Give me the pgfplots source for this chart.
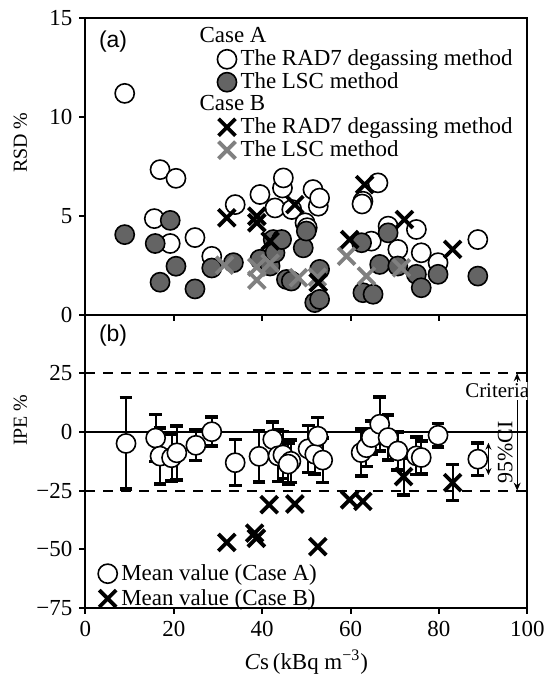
\documentclass[border=0pt]{standalone}
\usepackage{pgfplots}
\pgfplotsset{compat=1.18}
\usepackage{fontspec}
\setmainfont{Liberation Serif}
\newfontfamily\arial{Liberation Sans}
\usetikzlibrary{arrows.meta}

\definecolor{lscgray}{RGB}{100,100,100}
\definecolor{xgray}{RGB}{128,128,128}

\pgfplotsset{
  panel/.style={
    width=221.5pt, scale only axis,
    xmin=0, xmax=100,
    axis line style={line width=1pt},
    tick align=outside, major tick length=3pt,
    every tick/.style={line width=1pt, black},
    xtick pos=left, ytick pos=left,
    xtick={0,20,40,60,80,100},
    tick label style={font=\fontsize{11.5}{13}\selectfont},
    label style={font=\fontsize{11.5}{13}\selectfont},
    /pgf/number format/assume math mode=true,
    legend style={draw=none, fill=none, font=\fontsize{11.5}{13}\selectfont,
      cells={anchor=west}, row sep=-2pt, inner sep=0pt},
  },
  opencirc/.style={only marks, mark=*, mark size=4.8pt,
    mark options={fill=white, draw=black, line width=0.8pt}},
  fillcirc/.style={only marks, mark=*, mark size=4.8pt,
    mark options={fill=lscgray, draw=black, line width=0.8pt}},
  blackx/.style={only marks, mark=x, mark size=6pt,
    mark options={line width=1.9pt, draw=black}},
  grayx/.style={only marks, mark=x, mark size=6pt,
    mark options={line width=1.9pt, draw=xgray}},
}

\begin{document}
\begin{tikzpicture}

% (a) relative standard deviation
\begin{axis}[panel, name=top, height=148.5pt,
  ymin=0, ymax=15, ytick={0,5,10,15}, xticklabels={},
  ylabel={RSD \%},
  every axis y label/.style={at={(axis description cs:-0.147,0.58)}, rotate=90, anchor=center},
  legend style={at={(axis cs:28.1,14.75)}, anchor=north west},
]
\addlegendimage{empty legend}\addlegendentry{\hspace*{-20.5pt}Case A}
\addlegendimage{opencirc}\addlegendentry{The RAD7 degassing method}
\addlegendimage{fillcirc}\addlegendentry{The LSC method}
\addlegendimage{empty legend}\addlegendentry{\hspace*{-20.5pt}Case B}
\addlegendimage{blackx}\addlegendentry{The RAD7 degassing method}
\addlegendimage{grayx}\addlegendentry{The LSC method}

% Case A, RAD7
\addplot[opencirc, forget plot] coordinates {
 (8.9,11.2) (16.9,7.34) (20.5,6.9) (15.6,4.86) (19.2,3.6) (24.8,3.9)
 (28.6,2.95) (33.9,5.57) (39.5,6.08) (42.9,5.4) (44.6,6.41) (44.8,6.92)
 (46.7,5.32) (49.7,4.65) (50.2,4.4) (51.5,6.33) (52.7,5.49) (53.0,5.9)
 (62.8,5.74) (62.6,5.6) (64.7,3.72) (66.2,6.67) (68.5,4.48) (70.7,3.3)
 (74.9,4.31) (76.0,3.13) (79.8,2.63) (88.8,3.8)
};
% Case A, LSC
\addplot[fillcirc, forget plot] coordinates {
 (8.9,4.05) (15.8,3.6) (19.2,4.77) (20.5,2.45) (16.9,1.64) (24.8,1.3)
 (28.6,2.36) (33.5,2.63) (39.5,2.8) (41.8,2.46) (42.5,3.8) (42.9,3.13)
 (44.4,3.8) (45.5,1.78) (46.6,1.7) (49.3,3.38) (50.0,4.23) (53.0,2.29)
 (51.9,0.61) (53.0,0.77) (62.5,3.64) (62.8,1.11) (65.1,1.03) (66.6,2.54)
 (68.5,4.14) (70.7,2.46) (74.9,2.04) (76.0,1.36) (79.8,2.04) (88.8,1.95)
};
% Case B, LSC
\addplot[grayx, forget plot] coordinates {
 (31.5,2.5) (38.8,2.4) (38.8,1.75) (41.8,2.6) (48.2,1.87) (52.5,1.9)
 (59.1,2.96) (63.6,1.95) (71.5,2.37)
};
% Case B, RAD7
\addplot[blackx, forget plot] coordinates {
 (32.0,4.9) (38.8,4.98) (38.8,4.65) (41.8,3.72) (47.4,5.57) (52.7,1.62)
 (59.8,3.8) (63.2,6.58) (72.2,4.81) (83.1,3.3)
};
\node[font=\arial\fontsize{11.5}{13}\selectfont, anchor=west] at (axis cs:1.5,13.8) {(a)};
\end{axis}

% (b) IPE
\begin{axis}[panel, at={(top.south west)}, anchor=north west, height=147pt,
  ymin=-75, ymax=50, ytick={-75,-50,-25,0,25},
  yticklabels={−75,−50,−25,0,25},
  xlabel={\textit{C}s\,(kBq m\textsuperscript{−3})},
  ylabel={IPE \%},
  every axis y label/.style={at={(axis description cs:-0.147,0.64)}, rotate=90, anchor=center},
  legend style={at={(axis cs:2.8,-54.5)}, anchor=north west, row sep=-1pt},
  error bars/error bar style={line width=1pt, black},
  error bars/error mark options={rotate=90, line width=1.8pt, mark size=3.2pt, black},
]
\addplot[black, line width=1pt, forget plot] coordinates {(0,0) (100,0)};
\addplot[black, line width=1pt, dash pattern=on 5pt off 4pt, forget plot] coordinates {(0,25) (100,25)};
\addplot[black, line width=1pt, dash pattern=on 5pt off 4pt, forget plot] coordinates {(0,-25) (100,-25)};

% Case A, mean with 95% CI
\addplot[opencirc, error bars/.cd, y dir=both, y explicit] table[x=x, y=y, y error=e] {
x y e
9.2 -4.9 19.5
15.9 -2.6 10
16.9 -10.3 12
19.5 -11.0 10
20.7 -8.9 11.5
25.0 -5.7 6.5
28.6 0.1 6.2
33.9 -13.1 9.8
39.3 -10.4 11
42.4 -3.2 7.5
43.6 -10.2 11
44.7 -9.8 10
46.5 -12.5 9
45.9 -13.7 8.7
50.4 -7.2 10
51.9 -9.5 8.5
52.6 -1.8 8
53.7 -12.0 9.5
62.4 -8.8 10
63.6 -6.7 8
64.7 -2.4 7
66.6 3.3 11.5
68.5 -2.4 9.5
70.7 -8.1 8
74.9 -10.2 8
76.0 -10.9 7
79.8 -1.4 5
88.8 -11.6 7
};
\addlegendentry{Mean value (Case A)}
% Case B, mean
\addplot[blackx] coordinates {
 (32.0,-47.1) (38.3,-43.1) (38.7,-45.3) (41.6,-31.0) (47.4,-30.7)
 (52.6,-48.9) (59.8,-28.9) (62.8,-29.6)
};
\addlegendentry{Mean value (Case B)}
\addplot[blackx, forget plot, error bars/.cd, y dir=both, y explicit] table[x=x, y=y, y error=e] {
x y e
72.0 -19.0 7.8
83.1 -21.6 7.7
};

\draw[{Stealth[length=4pt,width=3.5pt]}-{Stealth[length=4pt,width=3.5pt]}, line width=0.6pt]
  (axis cs:97.7,-25) -- (axis cs:97.7,25);
\node[fill=white, inner sep=1pt, font=\fontsize{10.5}{12}\selectfont] at (axis cs:93.2,17.5) {Criteria};
\draw[{Stealth[length=3.5pt,width=3pt]}-{Stealth[length=3.5pt,width=3pt]}, line width=0.6pt]
  (axis cs:91.2,-4.6) -- (axis cs:91.2,-18.4);
\node[rotate=90, font=\fontsize{11}{12}\selectfont] at (axis cs:95.0,-8.7) {95\%CI};
\node[font=\arial\fontsize{11.5}{13}\selectfont, anchor=west] at (axis cs:1.5,41) {(b)};
\end{axis}
\path ([xshift=-3.5pt,yshift=2pt]current bounding box.north west);
\end{tikzpicture}
\end{document}
